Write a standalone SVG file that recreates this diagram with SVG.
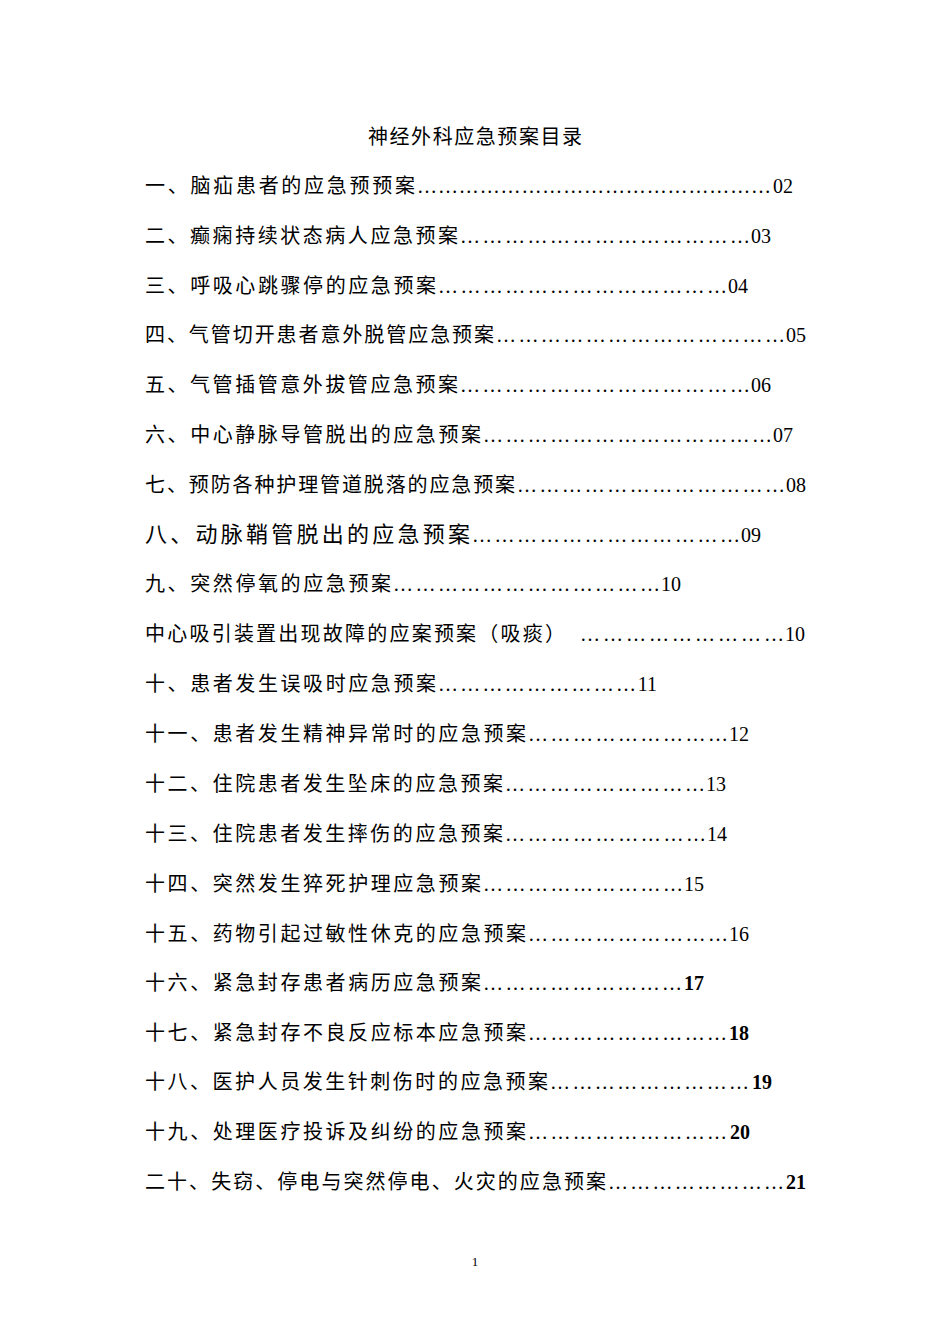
<svg xmlns="http://www.w3.org/2000/svg" width="950" height="1344" viewBox="0 0 950 1344">
<style>
text{font-family:"Liberation Serif","Noto Sans CJK SC",serif;font-size:20px;fill:#000}
.n{text-anchor:end}
.b{font-weight:bold}
</style>
<rect width="950" height="1344" fill="#fff"/>
<text x="475" y="144" text-anchor="middle" textLength="214" lengthAdjust="spacing">神经外科应急预案目录</text>
<g id="l1"><text x="145" y="193" textLength="270" lengthAdjust="spacing">一、脑疝患者的应急预预案</text><text x="417" y="193" textLength="354" lengthAdjust="spacing">……………………………………………</text><text class="n" x="793" y="193">02</text></g>
<g id="l2"><text x="145" y="243" textLength="313" lengthAdjust="spacing">二、癫痫持续状态病人应急预案</text><text x="460" y="243" textLength="290" lengthAdjust="spacing">…………………………………</text><text class="n" x="771" y="243">03</text></g>
<g id="l3"><text x="145" y="293" textLength="291" lengthAdjust="spacing">三、呼吸心跳骤停的应急预案</text><text x="438" y="293" textLength="289" lengthAdjust="spacing">…………………………………</text><text class="n" x="748" y="293">04</text></g>
<g id="l4"><text x="145" y="342" textLength="349" lengthAdjust="spacing">四、气管切开患者意外脱管应急预案</text><text x="496" y="342" textLength="289" lengthAdjust="spacing">…………………………………</text><text class="n" x="806" y="342">05</text></g>
<g id="l5"><text x="145" y="392" textLength="313" lengthAdjust="spacing">五、气管插管意外拔管应急预案</text><text x="460" y="392" textLength="290" lengthAdjust="spacing">…………………………………</text><text class="n" x="771" y="392">06</text></g>
<g id="l6"><text x="145" y="442" textLength="336" lengthAdjust="spacing">六、中心静脉导管脱出的应急预案</text><text x="483" y="442" textLength="289" lengthAdjust="spacing">…………………………………</text><text class="n" x="793" y="442">07</text></g>
<g id="l7"><text x="145" y="492" textLength="370" lengthAdjust="spacing">七、预防各种护理管道脱落的应急预案</text><text x="517" y="492" textLength="268" lengthAdjust="spacing">………………………………</text><text class="n" x="806" y="492">08</text></g>
<g id="l8"><text x="145" y="542" style="font-size:22px" textLength="325" lengthAdjust="spacing">八、动脉鞘管脱出的应急预案</text><text x="472" y="542" textLength="268" lengthAdjust="spacing">………………………………</text><text class="n" x="761" y="542">09</text></g>
<g id="l9"><text x="145" y="591" textLength="246" lengthAdjust="spacing">九、突然停氧的应急预案</text><text x="393" y="591" textLength="267" lengthAdjust="spacing">………………………………</text><text class="n" x="681" y="591">10</text></g>
<g id="l10"><text x="145" y="641" textLength="420" lengthAdjust="spacing">中心吸引装置出现故障的应案预案（吸痰）</text><text x="580" y="641" textLength="204" lengthAdjust="spacing">………………………</text><text class="n" x="805" y="641">10</text></g>
<g id="l11"><text x="145" y="691" textLength="291" lengthAdjust="spacing">十、患者发生误吸时应急预案</text><text x="438" y="691" textLength="198" lengthAdjust="spacing">………………………</text><text class="n" x="657" y="691">11</text></g>
<g id="l12"><text x="145" y="741" textLength="381" lengthAdjust="spacing">十一、患者发生精神异常时的应急预案</text><text x="528" y="741" textLength="200" lengthAdjust="spacing">………………………</text><text class="n" x="749" y="741">12</text></g>
<g id="l13"><text x="145" y="791" textLength="358" lengthAdjust="spacing">十二、住院患者发生坠床的应急预案</text><text x="505" y="791" textLength="200" lengthAdjust="spacing">………………………</text><text class="n" x="726" y="791">13</text></g>
<g id="l14"><text x="145" y="841" textLength="358" lengthAdjust="spacing">十三、住院患者发生摔伤的应急预案</text><text x="505" y="841" textLength="201" lengthAdjust="spacing">………………………</text><text class="n" x="727" y="841">14</text></g>
<g id="l15"><text x="145" y="891" textLength="336" lengthAdjust="spacing">十四、突然发生猝死护理应急预案</text><text x="483" y="891" textLength="200" lengthAdjust="spacing">………………………</text><text class="n" x="704" y="891">15</text></g>
<g id="l16"><text x="145" y="941" textLength="381" lengthAdjust="spacing">十五、药物引起过敏性休克的应急预案</text><text x="528" y="941" textLength="200" lengthAdjust="spacing">………………………</text><text class="n" x="749" y="941">16</text></g>
<g id="l17"><text x="145" y="990" textLength="336" lengthAdjust="spacing">十六、紧急封存患者病历应急预案</text><text x="483" y="990" textLength="199" lengthAdjust="spacing">………………………</text><text class="n b" x="704" y="990">17</text></g>
<g id="l18"><text x="145" y="1040" textLength="381" lengthAdjust="spacing">十七、紧急封存不良反应标本应急预案</text><text x="528" y="1040" textLength="199" lengthAdjust="spacing">………………………</text><text class="n b" x="749" y="1040">18</text></g>
<g id="l19"><text x="145" y="1089" textLength="403" lengthAdjust="spacing">十八、医护人员发生针刺伤时的应急预案</text><text x="550" y="1089" textLength="199" lengthAdjust="spacing">………………………</text><text class="n b" x="772" y="1089">19</text></g>
<g id="l20"><text x="145" y="1139" textLength="381" lengthAdjust="spacing">十九、处理医疗投诉及纠纷的应急预案</text><text x="528" y="1139" textLength="199" lengthAdjust="spacing">………………………</text><text class="n b" x="750" y="1139">20</text></g>
<g id="l21"><text x="145" y="1189" textLength="461" lengthAdjust="spacing">二十、失窃、停电与突然停电、火灾的应急预案</text><text x="608" y="1189" textLength="176" lengthAdjust="spacing">……………………</text><text class="n b" x="806" y="1189">21</text></g>
<text x="475" y="1266" text-anchor="middle" style="font-size:13px">1</text>
</svg>
